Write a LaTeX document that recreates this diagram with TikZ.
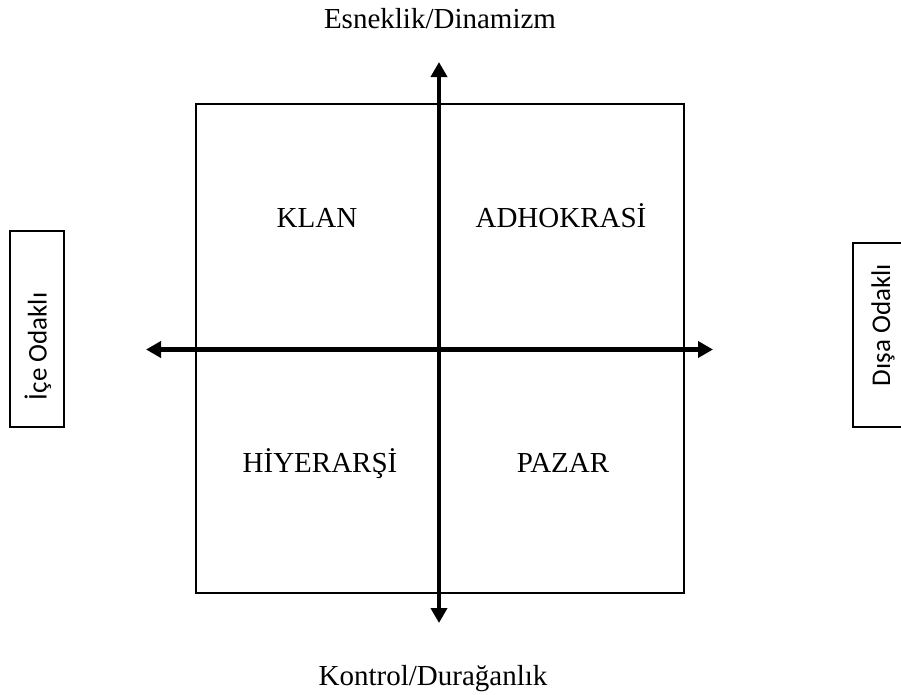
\documentclass[tikz,border=0pt]{standalone}
\usepackage{fontspec}
\setmainfont{Liberation Serif}
\newfontfamily\sidefont{Carlito}
\usetikzlibrary{arrows.meta}

\begin{document}
\begin{tikzpicture}[x=1pt, y=-1pt,
  frame/.style={draw, line width=2pt, inner sep=0pt},
  axisline/.style={line width=4.5pt,
    {Triangle[width=16pt,length=15pt]}-{Triangle[width=16pt,length=15pt]}},
  quadlabel/.style={font=\fontsize{29}{34}\selectfont, anchor=base, inner sep=0pt},
  axislabel/.style={font=\fontsize{29}{34}\selectfont, anchor=base, inner sep=0pt},
  sidebox/.style={draw, line width=1.3pt, inner sep=0pt},
  sidelabel/.style={font=\sidefont\fontsize{27}{32}\selectfont, rotate=90, inner sep=0pt}]
  \useasboundingbox (0,0) rectangle (901,694);
  \clip (0,0) rectangle (901,694);

  % the four-quadrant frame
  \node[frame, minimum width=488pt, minimum height=489pt] (grid) at (440,348.5) {};

  % axis end points
  \coordinate (ntip) at (439,62);
  \coordinate (stip) at (439,623);
  \coordinate (wtip) at (146,349.5);
  \coordinate (etip) at (713,349.5);

  \draw[axisline] (stip) -- (ntip);
  \draw[axisline] (wtip) -- (etip);

  % quadrant names
  \node[quadlabel] (klan) at (317,227) {KLAN};
  \node[quadlabel] (adhok) at (561,227) {ADHOKRASİ};
  \node[quadlabel] (hiyer) at (320,472) {HİYERARŞİ};
  \node[quadlabel] (pazar) at (563,472) {PAZAR};

  % axis names
  \node[axislabel] (flex) at (440,28) {Esneklik/Dinamizm};
  \node[axislabel] (ctrl) at (433,685) {Kontrol/Durağanlık};

  % side boxes
  \node[sidebox, minimum width=54pt, minimum height=196pt] (inbox) at (37,329) {};
  \node[sidelabel] (inlabel) at (38,346.5) {İçe Odaklı};
  \node[sidebox, minimum width=60pt, minimum height=184pt] (outbox) at (883,335) {};
  \node[sidelabel] (outlabel) at (883,325) {Dışa Odaklı};
\end{tikzpicture}
\end{document}
